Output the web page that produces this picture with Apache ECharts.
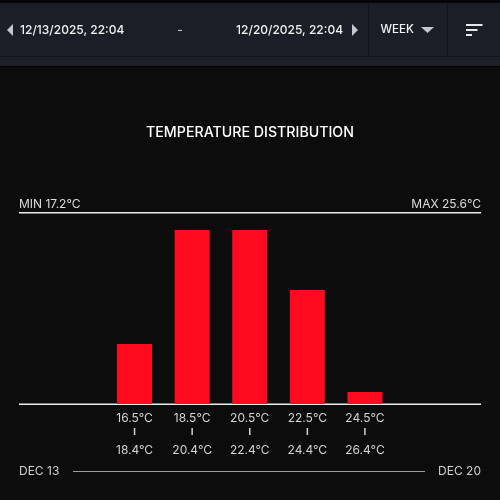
<!DOCTYPE html>
<html><head><meta charset="utf-8">
<script src="https://cdn.jsdelivr.net/npm/echarts@6/dist/echarts.min.js"></script>
<style>html,body{margin:0;padding:0;background:#0c0c0c}#c{width:500px;height:500px}</style>
</head><body><div id="c"></div>
<script>
var binLow = ['16.5°C','18.5°C','20.5°C','22.5°C','24.5°C'];
var binHigh = ['18.4°C','20.4°C','22.4°C','24.4°C','26.4°C'];
var counts = [10, 29, 29, 19, 2];
var minLabel = 'MIN 17.2°C';
var maxLabel = 'MAX 25.6°C';
var startDate = '12/13/2025, 22:04';
var endDate = '12/20/2025, 22:04';
var startDay = 'DEC 13';
var endDay = 'DEC 20';
var FONT = 'Inter, Roboto, sans-serif';

var chart = echarts.init(document.getElementById('c'), null, {renderer:'canvas'});
chart.setOption({
  backgroundColor: '#0c0c0c',
  animation: false,
  title: {
    text: 'TEMPERATURE DISTRIBUTION', left: 'center', top: 121,
    textStyle: {color:'#ffffff', fontSize:14.2, fontWeight:500, fontFamily:FONT}
  },
  grid: {left: 105.75, right: 106.25, top: 230, bottom: 96},
  xAxis: {
    type: 'category', data: binLow,
    axisLine: {show:false}, axisTick: {show:false},
    axisLabel: {
      margin: 6,
      interval: 0,
      formatter: function(v, i){ return '{a|' + v + '}\n{t|}\n{b|' + binHigh[i] + '}'; },
      rich: {
        a: {color:'#d2d2d2', fontSize:12, fontFamily:FONT, lineHeight:16},
        t: {width:1.5, height:7, backgroundColor:'#d2d2d2', lineHeight:11},
        b: {color:'#d2d2d2', fontSize:12, fontFamily:FONT, lineHeight:27}
      }
    }
  },
  yAxis: {type:'value', min:0, max:29, show:false, splitLine:{show:false}},
  series: [{
    type: 'bar', data: counts, barWidth: 35,
    itemStyle: {color:'#ff0a1e'}
  }],
  graphic: [
    {type:'rect', shape:{x:0,y:0,width:500,height:3}, style:{fill:'#050505'}},
    {type:'rect', shape:{x:0,y:3,width:500,height:53}, style:{fill:'#1c1e27'}},
    {type:'rect', shape:{x:0,y:56,width:500,height:1}, style:{fill:'#15161c'}},
    {type:'rect', shape:{x:0,y:57,width:500,height:9}, style:{fill:'#1e2029'}},
    {type:'rect', shape:{x:0,y:66,width:500,height:1}, style:{fill:'#060606'}},
    {type:'rect', shape:{x:368,y:3,width:1,height:53}, style:{fill:'#121318'}},
    {type:'rect', shape:{x:447,y:3,width:1,height:53}, style:{fill:'#121318'}},
    {type:'polygon', shape:{points:[[7,30],[13,24],[13,36]]}, style:{fill:'#c4c6cc'}},
    {type:'text', x:20, y:30, style:{text:startDate, fill:'#f2f2f2', font:'500 12px '+FONT, verticalAlign:'middle'}},
    {type:'text', x:180, y:30, style:{text:'-', fill:'#c4c6cc', font:'500 12px '+FONT, verticalAlign:'middle', align:'center'}},
    {type:'text', x:343, y:30, style:{text:endDate, fill:'#f2f2f2', font:'500 12px '+FONT, verticalAlign:'middle', align:'right'}},
    {type:'polygon', shape:{points:[[352,24],[358,30],[352,36]]}, style:{fill:'#c4c6cc'}},
    {type:'text', x:380.5, y:30, style:{text:'WEEK', fill:'#f2f2f2', font:'500 11.5px '+FONT, verticalAlign:'middle'}},
    {type:'polygon', shape:{points:[[421,27],[434,27],[427.5,33]]}, style:{fill:'#c4c6cc'}},
    {type:'rect', shape:{x:466,y:24,width:16.5,height:2}, style:{fill:'#e8e8e8'}},
    {type:'rect', shape:{x:466,y:29,width:11.5,height:2}, style:{fill:'#e8e8e8'}},
    {type:'rect', shape:{x:466,y:34,width:6,height:2}, style:{fill:'#e8e8e8'}},
    {type:'text', x:19, y:204.5, style:{text:minLabel, fill:'#dcdcdc', font:'12px '+FONT, verticalAlign:'middle'}},
    {type:'text', x:481, y:204.5, style:{text:maxLabel, fill:'#dcdcdc', font:'12px '+FONT, verticalAlign:'middle', align:'right'}},
    {type:'rect', shape:{x:19,y:212,width:462,height:1.5}, style:{fill:'#ececec'}},
    {type:'rect', shape:{x:19,y:403.5,width:462,height:1.5}, style:{fill:'#ececec'}},
    {type:'text', x:19, y:471.5, style:{text:startDay, fill:'#cfcfcf', font:'12px '+FONT, verticalAlign:'middle'}},
    {type:'text', x:481, y:471.5, style:{text:endDay, fill:'#cfcfcf', font:'12px '+FONT, verticalAlign:'middle', align:'right'}},
    {type:'rect', shape:{x:73,y:471,width:352,height:1}, style:{fill:'#9a9a9a'}}
  ]
});
</script></body></html>
